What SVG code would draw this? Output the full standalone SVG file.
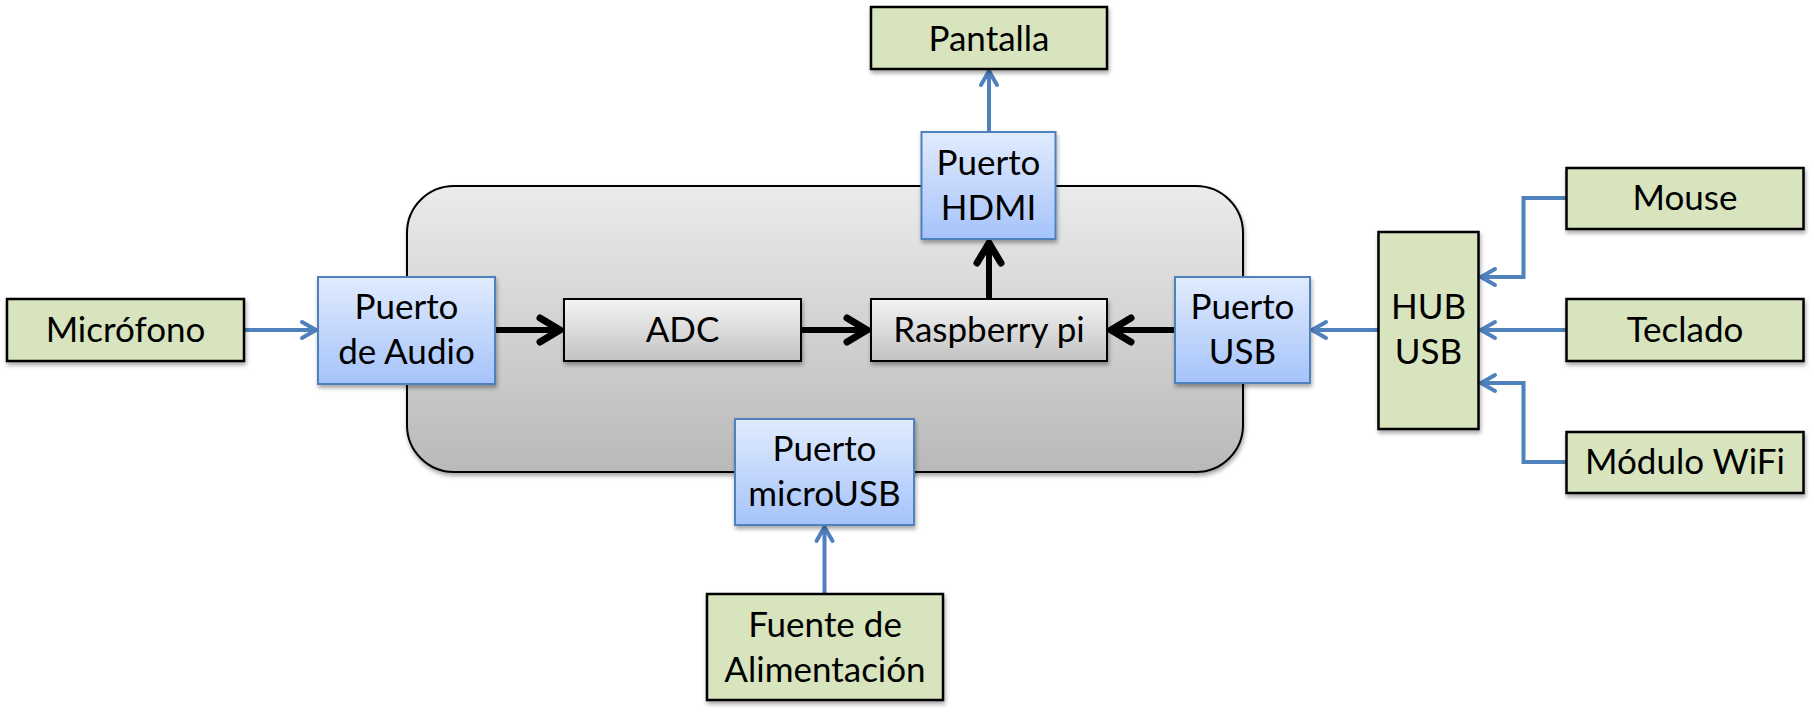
<svg xmlns="http://www.w3.org/2000/svg" width="1814" height="725" viewBox="0 0 1814 725">
<defs>
<linearGradient id="gBlue" x1="0" y1="0" x2="0" y2="1">
<stop offset="0" stop-color="#E1EBFD"/>
<stop offset="1" stop-color="#A5C3FA"/>
</linearGradient>
<linearGradient id="gGray" x1="0" y1="0" x2="0" y2="1">
<stop offset="0" stop-color="#F4F4F4"/>
<stop offset="1" stop-color="#C2C2C2"/>
</linearGradient>
<linearGradient id="gCont" x1="0" y1="0" x2="0" y2="1">
<stop offset="0" stop-color="#EBEBEB"/>
<stop offset="1" stop-color="#B9B9B9"/>
</linearGradient>
<filter id="sh" x="-10%" y="-10%" width="130%" height="140%">
<feDropShadow dx="1" dy="3" stdDeviation="2" flood-color="#000" flood-opacity="0.35"/>
</filter>
<marker id="aBlue" markerUnits="userSpaceOnUse" orient="auto" overflow="visible" refX="0" refY="0" markerWidth="20" markerHeight="20">
<path d="M-14,-8 L0,0 L-14,8" fill="none" stroke="#4F81BD" stroke-width="4" stroke-linecap="round" stroke-linejoin="round"/>
</marker>
<marker id="aBlack" markerUnits="userSpaceOnUse" orient="auto" overflow="visible" refX="0" refY="0" markerWidth="30" markerHeight="30">
<path d="M-22,-12 L-2,0 L-22,12" fill="none" stroke="#000" stroke-width="7" stroke-linecap="round" stroke-linejoin="miter"/>
</marker>
</defs>
<style>
text{font-family:Lato,"Liberation Sans",sans-serif;font-size:35px;fill:#000;text-anchor:middle}
.green{fill:#D7E4BD;stroke:#000;stroke-width:2.5;filter:url(#sh)}
.blue{fill:url(#gBlue);stroke:#4F81BD;stroke-width:2;filter:url(#sh)}
.gray{fill:url(#gGray);stroke:#000;stroke-width:2;filter:url(#sh)}
.cont{fill:url(#gCont);stroke:#000;stroke-width:2;filter:url(#sh)}
.cb{fill:none;stroke:#4F81BD;stroke-width:4;marker-end:url(#aBlue)}
.ck{fill:none;stroke:#000;stroke-width:6;marker-end:url(#aBlack)}
</style>
<rect width="1814" height="725" fill="#fff"/>
<g id="contenedor"><rect class="cont" x="407" y="186" width="836" height="286" rx="47" ry="47"/></g>
<g id="connectors">
<path class="cb" d="M244,330 H316"/>
<path class="ck" d="M495,330 H562"/>
<path class="ck" d="M801,330 H869"/>
<path class="ck" d="M989,299 V241"/>
<path class="cb" d="M989,132 V71"/>
<path class="ck" d="M1175,330 H1109"/>
<path class="cb" d="M1378,330 H1312"/>
<path class="cb" d="M1566,198 H1523.5 V277 H1481"/>
<path class="cb" d="M1566,330 H1481"/>
<path class="cb" d="M1566,462 H1523.5 V383 H1481"/>
<path class="cb" d="M824.5,594 V527"/>
</g>
<g id="pantalla"><rect class="green" x="871" y="7" width="236" height="62"/><text x="989" y="51">Pantalla</text></g>
<g id="puerto-hdmi"><rect class="blue" x="921.5" y="132" width="134" height="107"/><text x="988.5" y="175">Puerto</text><text x="988.5" y="220">HDMI</text></g>
<g id="microfono"><rect class="green" x="7" y="299" width="237" height="62"/><text x="125.5" y="342">Micrófono</text></g>
<g id="puerto-audio"><rect class="blue" x="318" y="277" width="177" height="107"/><text x="406.5" y="319">Puerto</text><text x="406.5" y="364">de Audio</text></g>
<g id="adc"><rect class="gray" x="564" y="299" width="237" height="62"/><text x="682.5" y="342">ADC</text></g>
<g id="raspberry"><rect class="gray" x="871" y="299" width="236" height="62"/><text x="989" y="342">Raspberry pi</text></g>
<g id="puerto-usb"><rect class="blue" x="1175" y="277" width="135" height="106"/><text x="1242.5" y="319">Puerto</text><text x="1242.5" y="364">USB</text></g>
<g id="hub-usb"><rect class="green" x="1378.5" y="232" width="100" height="197"/><text x="1428.5" y="319">HUB</text><text x="1428.5" y="364">USB</text></g>
<g id="mouse"><rect class="green" x="1566.5" y="168" width="237" height="61"/><text x="1685" y="210">Mouse</text></g>
<g id="teclado"><rect class="green" x="1566.5" y="299" width="237" height="62"/><text x="1685" y="342">Teclado</text></g>
<g id="wifi"><rect class="green" x="1566.5" y="432" width="237" height="61"/><text x="1685" y="474">Módulo WiFi</text></g>
<g id="puerto-microusb"><rect class="blue" x="735" y="419" width="179" height="106"/><text x="824.5" y="461">Puerto</text><text x="824.5" y="506">microUSB</text></g>
<g id="fuente"><rect class="green" x="707" y="594" width="236" height="106"/><text x="825" y="637">Fuente de</text><text x="825" y="682">Alimentación</text></g>
</svg>
